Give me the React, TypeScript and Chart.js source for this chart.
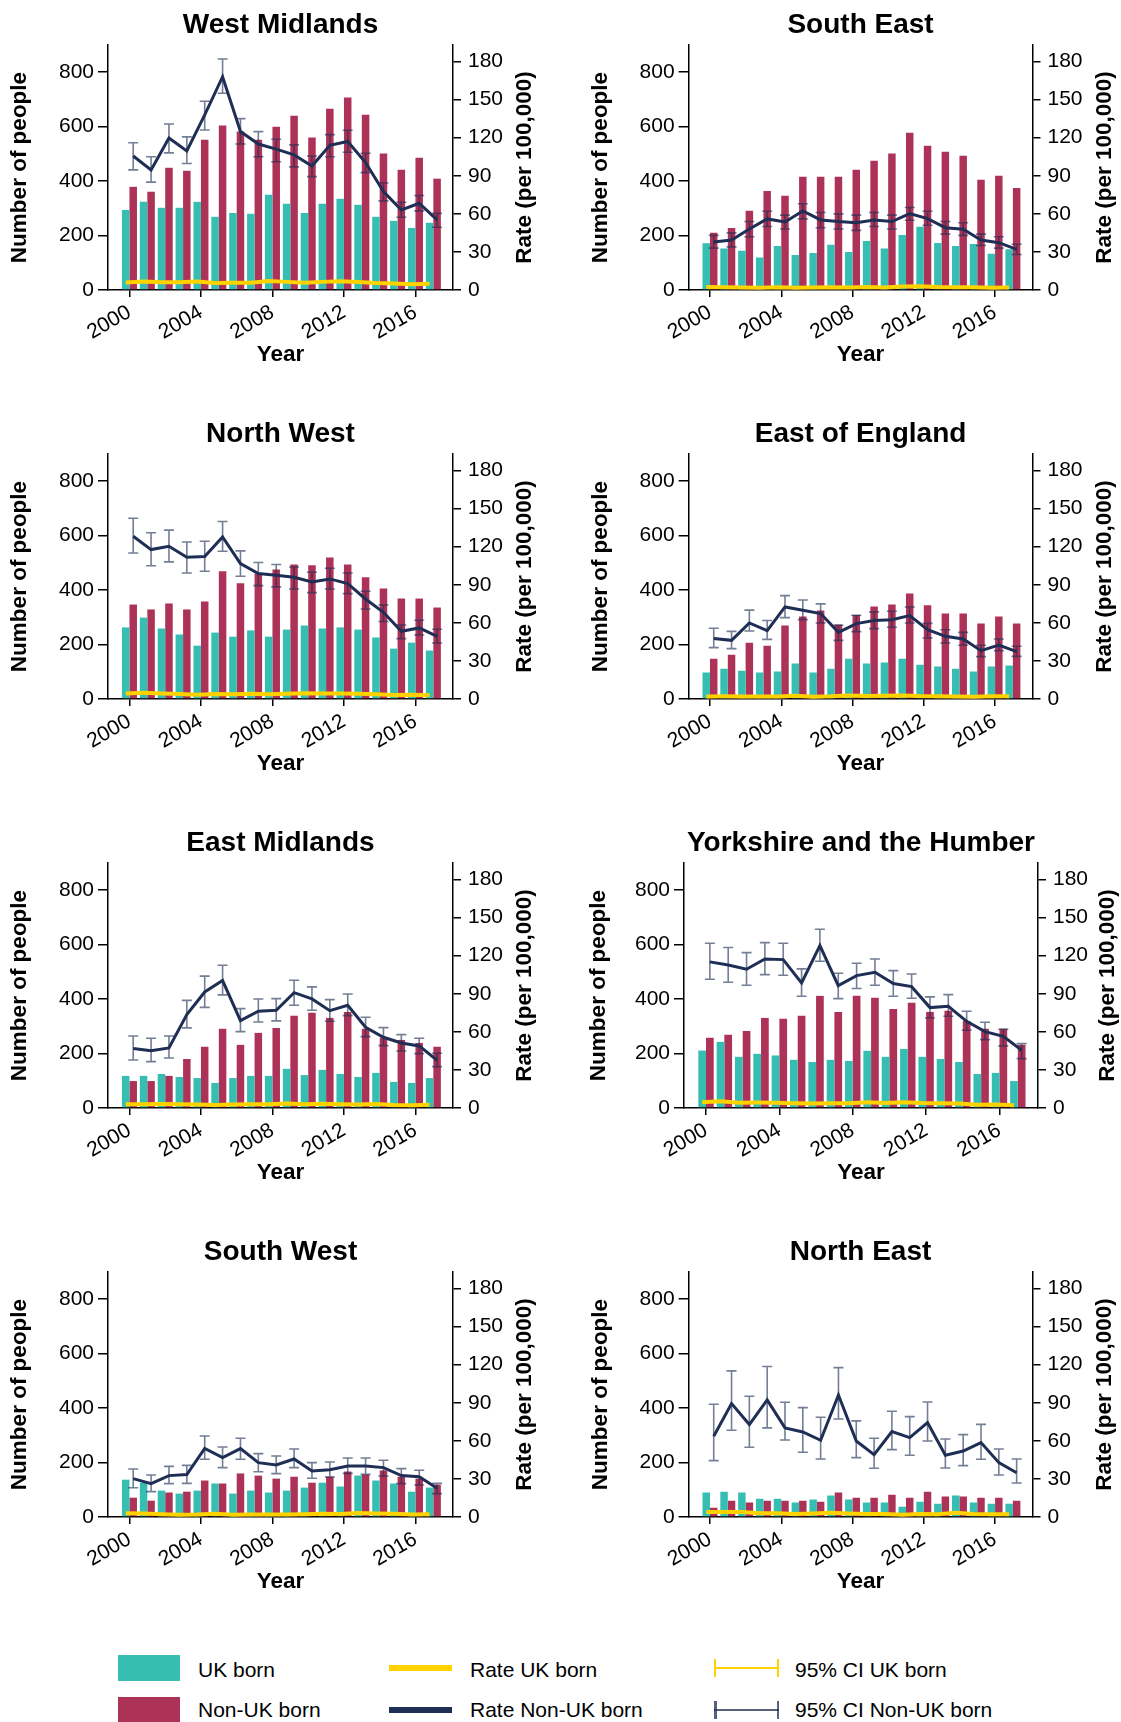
import React, { useEffect, useRef } from 'react';
import { Chart, registerables } from 'chart.js';

Chart.register(...registerables);

// ---------- shared axes ----------
const YEARS = [2000, 2001, 2002, 2003, 2004, 2005, 2006, 2007, 2008, 2009, 2010, 2011, 2012, 2013, 2014, 2015, 2016, 2017];
const X_TICKS = [2000, 2004, 2008, 2012, 2016];
const COUNT_TICKS = [0, 200, 400, 600, 800];
const RATE_TICKS = [0, 30, 60, 90, 120, 150, 180];

// ---------- West Midlands ----------
const WM_UK = [294, 324, 302, 302, 324, 269, 283, 280, 350, 317, 283, 317, 335, 313, 269, 254, 228, 247];
const WM_NON_UK = [379, 361, 449, 438, 552, 604, 582, 552, 600, 640, 560, 666, 707, 644, 501, 442, 486, 409];
const WM_RATE_UK = [6.0, 6.6, 6.1, 6.1, 6.6, 5.5, 5.8, 5.7, 7.1, 6.4, 5.8, 6.4, 6.8, 6.3, 5.5, 5.2, 4.6, 5.0];
const WM_RATE_NON_UK = [105.6, 94.6, 119.8, 109.6, 138, 168, 124.8, 115, 111, 106.4, 97.7, 114, 117, 100.4, 77.5, 63, 68.3, 55.2];
const WM_CI_LO = [94.6, 85, 108, 99.6, 126, 155, 115, 105, 101, 97, 89.3, 105, 108.5, 92.5, 70.2, 57.3, 62.3, 49.4];
const WM_CI_HI = [116, 105, 130.8, 120.6, 148.7, 182, 135, 124.8, 118.8, 114.3, 105.6, 122.4, 125.9, 107.7, 84.3, 69.1, 74.4, 60.4];

// ---------- South East ----------
const SE_UK = [172, 152, 144, 119, 162, 129, 136, 166, 140, 180, 152, 202, 232, 173, 162, 169, 133, 150];
const SE_NON_UK = [210, 228, 291, 364, 346, 416, 416, 416, 442, 475, 501, 578, 530, 508, 493, 405, 420, 375];
const SE_RATE_UK = [2.3, 2.1, 2.0, 1.7, 2.2, 1.8, 1.9, 2.2, 1.9, 2.4, 2.0, 2.7, 3.0, 2.3, 2.1, 2.2, 1.7, 1.9];
const SE_RATE_NON_UK = [37.8, 39.4, 48, 56, 53.6, 62.3, 55.2, 53.9, 53, 55.2, 53.9, 60.2, 56.2, 49.1, 47.8, 39.4, 37.3, 32];
const SE_CI_LO = [33, 34, 42, 50, 48, 56, 49, 48, 47, 50, 48, 55, 51, 44, 43, 35, 33, 28];
const SE_CI_HI = [43, 45, 54, 62, 59, 68, 61, 60, 59, 61, 59, 65, 62, 54, 53, 44, 42, 36];

// ---------- North West ----------
const NW_UK = [263, 299, 259, 237, 196, 244, 229, 252, 229, 255, 270, 259, 263, 255, 226, 185, 207, 178];
const NW_NON_UK = [347, 329, 351, 329, 358, 469, 425, 461, 476, 494, 491, 520, 494, 447, 406, 369, 369, 336];
const NW_RATE_UK = [4.4, 5.0, 4.3, 3.9, 3.3, 4.0, 3.8, 4.2, 3.8, 4.2, 4.5, 4.3, 4.4, 4.2, 3.8, 3.1, 3.4, 3.0];
const NW_RATE_NON_UK = [128.2, 117.7, 120.3, 111.7, 112.2, 127.7, 106.7, 98.8, 97.5, 95.9, 92.2, 94.6, 90.9, 78.8, 68.3, 53.3, 56, 49.4];
const NW_CI_LO = [115, 105, 108, 99.3, 100.6, 116.4, 96.7, 89.3, 88.3, 86.7, 83.8, 86.7, 83, 70.9, 61, 47.6, 50.4, 44.1];
const NW_CI_HI = [142.4, 131, 133, 123.7, 124.3, 139.8, 116.7, 107.5, 105.9, 104, 99.8, 103, 99.3, 84.9, 74.1, 58.3, 62, 54.9];

// ---------- East of England ----------
const EOE_UK = [97, 111, 104, 97, 101, 130, 97, 111, 148, 130, 134, 148, 126, 119, 111, 101, 119, 123];
const EOE_NON_UK = [148, 163, 207, 196, 270, 303, 325, 274, 309, 340, 347, 388, 344, 314, 314, 277, 303, 277];
const EOE_RATE_UK = [1.9, 2.1, 2.0, 1.9, 1.9, 2.5, 1.8, 2.1, 2.8, 2.4, 2.5, 2.8, 2.3, 2.2, 2.0, 1.8, 2.1, 2.2];
const EOE_RATE_NON_UK = [47.6, 46.2, 59.9, 53.8, 72.5, 69.9, 67.3, 52.5, 59.4, 61.8, 62.5, 65.7, 54.7, 49.4, 47.3, 38.1, 42.5, 37.3];
const EOE_CI_LO = [40.5, 39.7, 53.6, 47, 64.1, 62.5, 59.9, 46.2, 53.1, 55.4, 56.5, 59.9, 48.1, 44.1, 42.3, 33.4, 38.1, 33.6];
const EOE_CI_HI = [55.7, 53.3, 70, 61.8, 81.4, 78, 74.9, 58.1, 66, 68.6, 69.1, 72.5, 59.6, 54.6, 52.5, 42.3, 47.3, 41.5];

// ---------- East Midlands ----------
const EM_UK = [118, 118, 125, 114, 110, 92, 110, 118, 118, 144, 121, 140, 125, 114, 129, 96, 92, 110];
const EM_NON_UK = [99, 99, 118, 180, 225, 291, 232, 276, 294, 339, 350, 331, 353, 291, 258, 250, 239, 225];
const EM_RATE_UK = [3.0, 3.0, 3.1, 2.9, 2.8, 2.3, 2.7, 2.9, 2.9, 3.5, 2.9, 3.4, 3.0, 2.7, 3.1, 2.3, 2.2, 2.6];
const EM_RATE_NON_UK = [46.8, 45.2, 47.3, 73.6, 91.4, 100.4, 68.8, 76.2, 77, 90.9, 85.9, 76.7, 80.9, 63.6, 55.7, 51.2, 48.9, 37.6];
const EM_CI_LO = [37.8, 36.5, 39.4, 63.1, 79.3, 89.1, 60.2, 67.8, 68.6, 80.9, 77, 68.3, 72.8, 56.2, 49.1, 44.9, 42.8, 32.6];
const EM_CI_HI = [56.7, 54.9, 56.7, 84.8, 103.9, 112.5, 78.3, 85.9, 86.2, 100.6, 95.4, 85.4, 89.8, 71.5, 63.3, 57.8, 54.9, 43.1];

// ---------- Yorkshire and the Humber ----------
const YH_UK = [211, 243, 188, 199, 193, 177, 169, 177, 173, 210, 188, 217, 188, 180, 169, 125, 129, 99];
const YH_NON_UK = [258, 269, 283, 331, 328, 339, 412, 353, 412, 405, 364, 387, 353, 357, 320, 291, 291, 232];
const YH_RATE_UK = [4.6, 5.3, 4.1, 4.3, 4.2, 3.8, 3.6, 3.8, 3.7, 4.5, 4.0, 4.6, 4.0, 3.8, 3.6, 2.6, 2.7, 2.1];
const YH_RATE_NON_UK = [115.1, 112.7, 109.3, 117.4, 116.9, 98.5, 128, 96.4, 104.3, 106.9, 98, 95.6, 79.1, 80.1, 68.3, 60.2, 56.5, 45.5];
const YH_CI_LO = [101.4, 99.1, 96.7, 105.1, 104.6, 88, 115.6, 86.2, 94.1, 96.7, 88, 86.4, 70.9, 72.3, 61.2, 53.9, 48.9, 38.9];
const YH_CI_HI = [129.8, 126.4, 122.4, 130.3, 129.8, 109.6, 140.8, 106.1, 114, 117.4, 108.2, 105.6, 87.5, 89.3, 76.2, 67.5, 62, 50.7];

// ---------- South West ----------
const SW_UK = [137, 126, 97, 86, 97, 123, 86, 97, 90, 97, 108, 126, 112, 152, 134, 123, 93, 108];
const SW_NON_UK = [71, 60, 90, 93, 134, 123, 160, 152, 141, 148, 126, 148, 167, 156, 171, 148, 141, 119];
const SW_RATE_UK = [3.0, 2.7, 2.1, 1.8, 2.0, 2.6, 1.8, 2.0, 1.9, 2.0, 2.2, 2.6, 2.3, 3.1, 2.7, 2.5, 1.9, 2.2];
const SW_RATE_NON_UK = [30.2, 26.3, 32.6, 33.4, 54.1, 46.8, 53.9, 42.8, 41, 45.7, 36.3, 37.3, 40.2, 40.2, 38.9, 32.6, 31.8, 22.6];
const SW_CI_LO = [23.1, 20, 26.3, 26.5, 45.5, 38.9, 45.5, 35.7, 34.2, 38.9, 30.5, 31.5, 34.4, 33.6, 32.3, 26.3, 25.2, 18.4];
const SW_CI_HI = [37.8, 33.1, 39.9, 40.7, 63.8, 55.2, 62, 49.9, 48.1, 53.6, 42.8, 43.3, 46.5, 46.5, 44.7, 38.1, 36.8, 26.5];

// ---------- North East ----------
const NE_UK = [90, 93, 90, 67, 67, 53, 64, 79, 64, 53, 53, 38, 56, 49, 79, 53, 49, 49];
const NE_NON_UK = [34, 60, 53, 60, 60, 60, 56, 90, 71, 71, 82, 71, 93, 75, 75, 71, 71, 60];
const NE_RATE_UK = [3.9, 4.0, 3.9, 2.9, 2.9, 2.3, 2.8, 3.4, 2.8, 2.3, 2.3, 1.7, 2.4, 2.1, 3.4, 2.3, 2.1, 2.1];
const NE_RATE_NON_UK = [63.6, 89.3, 72.8, 92.2, 70.2, 67, 60.4, 96.1, 59.9, 49.1, 67.3, 62.5, 74.4, 48.6, 52, 58.6, 42.8, 34.9];
const NE_CI_LO = [44.4, 68.3, 54.9, 70.2, 60.7, 51, 45.7, 77.2, 46.8, 38.4, 53.1, 48.6, 59.9, 38.6, 40.5, 45.5, 33.1, 26.8];
const NE_CI_HI = [88.8, 115.1, 95.1, 118.5, 90.4, 86.2, 78.6, 117.7, 75.7, 62, 83.3, 79.1, 90.6, 61.5, 64.9, 73, 53.6, 45.7];

const REGIONS = [
  { name: 'West Midlands', uk: WM_UK, nonUk: WM_NON_UK, rateUk: WM_RATE_UK, rateNonUk: WM_RATE_NON_UK, ciLo: WM_CI_LO, ciHi: WM_CI_HI },
  { name: 'South East', uk: SE_UK, nonUk: SE_NON_UK, rateUk: SE_RATE_UK, rateNonUk: SE_RATE_NON_UK, ciLo: SE_CI_LO, ciHi: SE_CI_HI },
  { name: 'North West', uk: NW_UK, nonUk: NW_NON_UK, rateUk: NW_RATE_UK, rateNonUk: NW_RATE_NON_UK, ciLo: NW_CI_LO, ciHi: NW_CI_HI },
  { name: 'East of England', uk: EOE_UK, nonUk: EOE_NON_UK, rateUk: EOE_RATE_UK, rateNonUk: EOE_RATE_NON_UK, ciLo: EOE_CI_LO, ciHi: EOE_CI_HI },
  { name: 'East Midlands', uk: EM_UK, nonUk: EM_NON_UK, rateUk: EM_RATE_UK, rateNonUk: EM_RATE_NON_UK, ciLo: EM_CI_LO, ciHi: EM_CI_HI },
  { name: 'Yorkshire and the Humber', uk: YH_UK, nonUk: YH_NON_UK, rateUk: YH_RATE_UK, rateNonUk: YH_RATE_NON_UK, ciLo: YH_CI_LO, ciHi: YH_CI_HI },
  { name: 'South West', uk: SW_UK, nonUk: SW_NON_UK, rateUk: SW_RATE_UK, rateNonUk: SW_RATE_NON_UK, ciLo: SW_CI_LO, ciHi: SW_CI_HI },
  { name: 'North East', uk: NE_UK, nonUk: NE_NON_UK, rateUk: NE_RATE_UK, rateNonUk: NE_RATE_NON_UK, ciLo: NE_CI_LO, ciHi: NE_CI_HI },
];

// ---------- styling / layout ----------
const TEAL = '#37beb2';
const CRIMSON = '#ad3257';
const NAVY = '#1f2e54';
const YELLOW = '#ffd200';
const ERR = 'rgba(31, 46, 84, 0.62)';
const FONT = '"Liberation Sans", Arial, Helvetica, sans-serif';

const X_MIN = 1998.8;
const X_MAX = 2018.1;
const COUNT_MAX = 900;
const RATE_MAX = 193;
const BAR_SHIFT = 0.21; // half of a bar width in years (lines sit on bar centres)

const ROW_TOPS = [0, 409, 818, 1227];
const PANEL_H = 409;
const PLOT_TOP = 45;
const PLOT_BOTTOM = 290;

const COL_LEFT = { x: 0, w: 560, plotLeft: 108, plotRight: 453, leftTitleX: 20, rightTitleX: 525 };
const COL_RIGHT = { x: 560, w: 561, plotLeft: 128.6, plotRight: 472.5, leftTitleX: 41, rightTitleX: 545 };
const COL_RIGHT_WIDE = { x: 560, w: 561, plotLeft: 124, plotRight: 478, leftTitleX: 39, rightTitleX: 548 };
const PANEL_COLS = [COL_LEFT, COL_RIGHT, COL_LEFT, COL_RIGHT, COL_LEFT, COL_RIGHT_WIDE, COL_LEFT, COL_RIGHT];

type Region = typeof REGIONS[number];
type Geo = typeof COL_LEFT;

function Panel({ region, geo, top }: { region: Region; geo: Geo; top: number }) {
  const ref = useRef<HTMLCanvasElement | null>(null);

  useEffect(() => {
    const canvas = ref.current;
    if (!canvas) return;

    const decor = {
      id: 'decor',
      beforeDatasetDraw(chart: any, args: any) {
        if (args.index !== 3) return;
        const { ctx, scales } = chart;
        ctx.save();
        ctx.strokeStyle = ERR;
        ctx.lineWidth = 1.6;
        YEARS.forEach((yr, i) => {
          const x = scales.x.getPixelForValue(yr + BAR_SHIFT);
          const y0 = scales.y1.getPixelForValue(region.ciLo[i]);
          const y1 = scales.y1.getPixelForValue(region.ciHi[i]);
          ctx.beginPath();
          ctx.moveTo(x, y0);
          ctx.lineTo(x, y1);
          ctx.moveTo(x - 5, y0);
          ctx.lineTo(x + 5, y0);
          ctx.moveTo(x - 5, y1);
          ctx.lineTo(x + 5, y1);
          ctx.stroke();
        });
        ctx.restore();
      },
      afterDraw(chart: any) {
        const { ctx, chartArea } = chart;
        const cx = (chartArea.left + chartArea.right) / 2;
        const cy = (chartArea.top + chartArea.bottom) / 2;
        ctx.save();
        ctx.fillStyle = '#000';
        ctx.textAlign = 'center';
        ctx.textBaseline = 'middle';
        ctx.font = `bold 28px ${FONT}`;
        ctx.fillText(region.name, cx, 25);
        ctx.font = `bold 22.5px ${FONT}`;
        ctx.fillText('Year', cx, 355);
        ctx.save();
        ctx.translate(geo.leftTitleX, cy);
        ctx.rotate(-Math.PI / 2);
        ctx.fillText('Number of people', 0, 0);
        ctx.restore();
        ctx.save();
        ctx.translate(geo.rightTitleX, cy);
        ctx.rotate(-Math.PI / 2);
        ctx.fillText('Rate (per 100,000)', 0, 0);
        ctx.restore();
        ctx.restore();
      },
    };

    const tickFont = { family: FONT, size: 21 };
    const chart = new Chart(canvas, {
      type: 'bar',
      data: {
        datasets: [
          {
            type: 'bar',
            label: 'UK born',
            data: YEARS.map((y, i) => ({ x: y, y: region.uk[i] })),
            backgroundColor: TEAL,
            borderWidth: 0,
            yAxisID: 'y',
            categoryPercentage: 0.84,
            barPercentage: 1,
            order: 5,
          },
          {
            type: 'bar',
            label: 'Non-UK born',
            data: YEARS.map((y, i) => ({ x: y, y: region.nonUk[i] })),
            backgroundColor: CRIMSON,
            borderWidth: 0,
            yAxisID: 'y',
            categoryPercentage: 0.84,
            barPercentage: 1,
            order: 5,
          },
          {
            type: 'line',
            label: 'Rate UK born',
            data: YEARS.map((y, i) => ({ x: y - BAR_SHIFT, y: region.rateUk[i] })),
            borderColor: YELLOW,
            borderWidth: 4,
            pointRadius: 0,
            tension: 0,
            yAxisID: 'y1',
            order: 1,
          },
          {
            type: 'line',
            label: 'Rate Non-UK born',
            data: YEARS.map((y, i) => ({ x: y + BAR_SHIFT, y: region.rateNonUk[i] })),
            borderColor: NAVY,
            borderWidth: 3,
            pointRadius: 0,
            tension: 0,
            yAxisID: 'y1',
            order: 0,
          },
        ],
      } as any,
      options: {
        responsive: false,
        maintainAspectRatio: false,
        animation: false,
        events: [],
        layout: { padding: { top: PLOT_TOP, left: 0, right: 0, bottom: 0 } },
        plugins: {
          legend: { display: false },
          tooltip: { enabled: false },
          title: { display: false },
        },
        scales: {
          x: {
            type: 'linear',
            position: 'bottom',
            min: X_MIN,
            max: X_MAX,
            offset: false,
            afterBuildTicks: (s: any) => {
              s.ticks = X_TICKS.map((v) => ({ value: v }));
            },
            afterFit: (s: any) => {
              s.height = PANEL_H - PLOT_BOTTOM;
            },
            ticks: {
              autoSkip: false,
              minRotation: 30,
              maxRotation: 30,
              padding: 3,
              color: '#000',
              font: tickFont,
              callback: (v: any) => String(v),
            },
            grid: { display: true, drawOnChartArea: false, drawTicks: true, tickLength: 7, color: '#000', lineWidth: 1.5, offset: false },
            border: { display: true, color: '#000', width: 1.5 },
          },
          y: {
            type: 'linear',
            position: 'left',
            min: 0,
            max: COUNT_MAX,
            afterBuildTicks: (s: any) => {
              s.ticks = COUNT_TICKS.map((v) => ({ value: v }));
            },
            afterFit: (s: any) => {
              s.width = geo.plotLeft;
            },
            ticks: { padding: 4, color: '#000', font: tickFont },
            grid: { display: true, drawOnChartArea: false, drawTicks: true, tickLength: 10, color: '#000', lineWidth: 1.5 },
            border: { display: true, color: '#000', width: 1.5 },
          },
          y1: {
            type: 'linear',
            position: 'right',
            min: 0,
            max: RATE_MAX,
            afterBuildTicks: (s: any) => {
              s.ticks = RATE_TICKS.map((v) => ({ value: v }));
            },
            afterFit: (s: any) => {
              s.width = geo.w - geo.plotRight;
            },
            ticks: { padding: 7, color: '#000', font: tickFont },
            grid: { display: true, drawOnChartArea: false, drawTicks: true, tickLength: 8, color: '#000', lineWidth: 1.5 },
            border: { display: true, color: '#000', width: 1.5 },
          },
        },
      } as any,
      plugins: [decor],
    });

    return () => chart.destroy();
  }, [region, geo]);

  return (
    <canvas
      ref={ref}
      width={geo.w}
      height={PANEL_H}
      style={{ position: 'absolute', left: geo.x, top, width: geo.w, height: PANEL_H, display: 'block' }}
    />
  );
}

const textStyle = (left: number, cy: number): React.CSSProperties => ({
  position: 'absolute',
  left,
  top: cy - 12,
  height: 24,
  lineHeight: '24px',
  fontFamily: FONT,
  fontSize: 21,
  color: '#000',
  whiteSpace: 'nowrap',
});

function CiSymbol({ left, cy, color, width }: { left: number; cy: number; color: string; width: number }) {
  return (
    <div style={{ position: 'absolute', left, top: cy - 9, width: 65, height: 18 }}>
      <div style={{ position: 'absolute', left: 0, top: 0, width, height: 18, background: color }} />
      <div style={{ position: 'absolute', right: 0, top: 0, width, height: 18, background: color }} />
      <div style={{ position: 'absolute', left: 0, top: 9 - width / 2, width: 65, height: width, background: color }} />
    </div>
  );
}

function Legend() {
  return (
    <>
      <div style={{ position: 'absolute', left: 118, top: 1655, width: 62, height: 26, background: TEAL }} />
      <div style={textStyle(198, 1670)}>UK born</div>
      <div style={{ position: 'absolute', left: 118, top: 1697, width: 62, height: 25, background: CRIMSON }} />
      <div style={textStyle(198, 1710)}>Non-UK born</div>

      <div style={{ position: 'absolute', left: 389, top: 1665, width: 63, height: 6, background: YELLOW }} />
      <div style={textStyle(470, 1670)}>Rate UK born</div>
      <div style={{ position: 'absolute', left: 389, top: 1707, width: 63, height: 6, background: NAVY }} />
      <div style={textStyle(470, 1710)}>Rate Non-UK born</div>

      <CiSymbol left={714} cy={1668} color={YELLOW} width={2} />
      <div style={textStyle(795, 1670)}>95% CI UK born</div>
      <CiSymbol left={714} cy={1710} color={'rgba(31, 46, 84, 0.75)'} width={2.5} />
      <div style={textStyle(795, 1710)}>95% CI Non-UK born</div>
    </>
  );
}

export default function App() {
  return (
    <div style={{ position: 'absolute', left: 0, top: 0, width: 1121, height: 1722, overflow: 'hidden', background: '#fff' }}>
      {REGIONS.map((r, i) => (
        <Panel key={r.name} region={r} geo={PANEL_COLS[i]} top={ROW_TOPS[Math.floor(i / 2)]} />
      ))}
      <Legend />
    </div>
  );
}
